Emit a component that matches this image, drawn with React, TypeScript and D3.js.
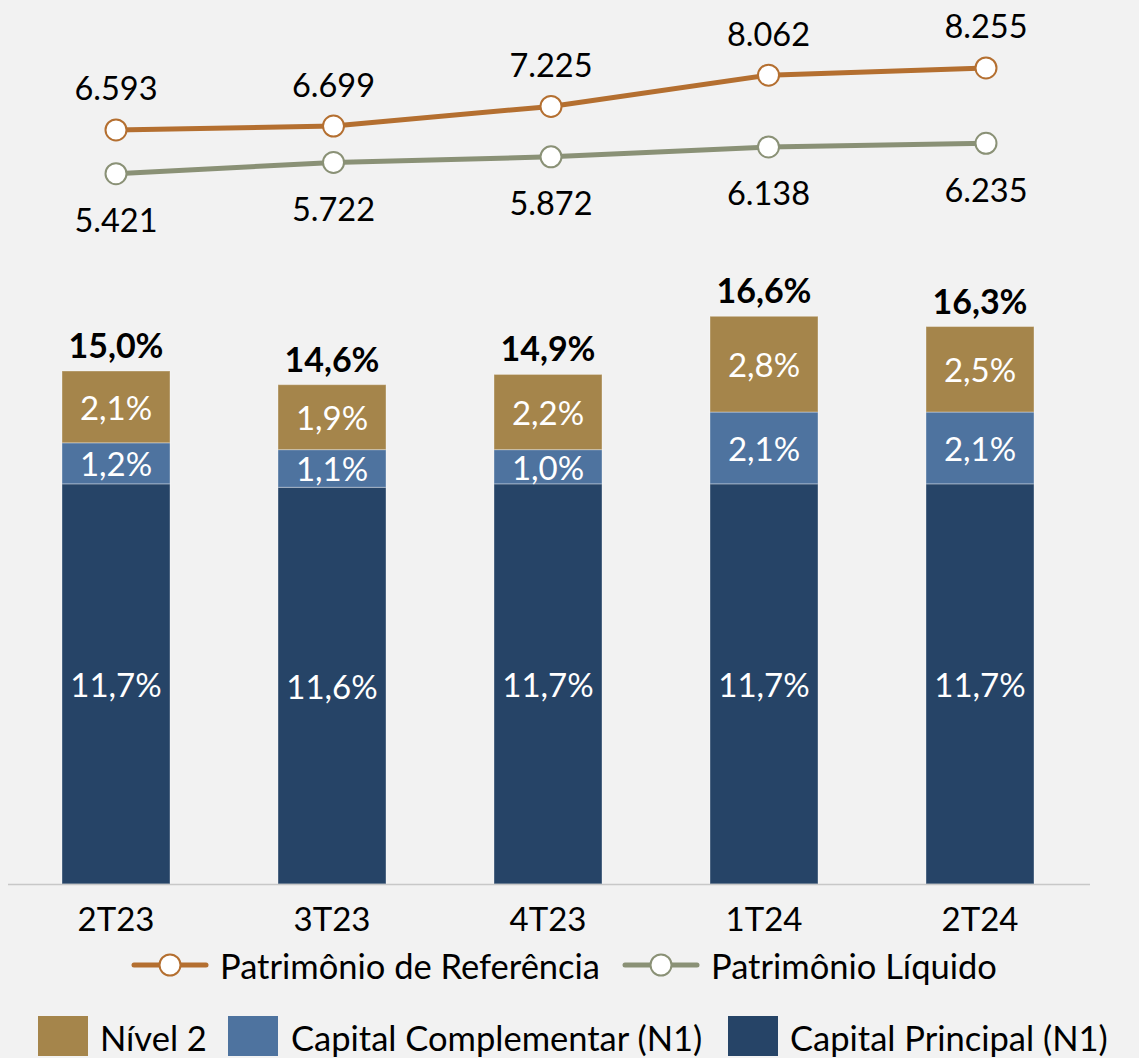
import React from "react";
import * as d3 from "d3";

const categories = ["2T23", "3T23", "4T23", "1T24", "2T24"];
const capitalPrincipal = [11.7, 11.6, 11.7, 11.7, 11.7];
const capitalComplementar = [1.2, 1.1, 1.0, 2.1, 2.1];
const nivel2 = [2.1, 1.9, 2.2, 2.8, 2.5];
const totals = [15.0, 14.6, 14.9, 16.6, 16.3];
const patrimonioReferencia = [6593, 6699, 7225, 8062, 8255];
const patrimonioLiquido = [5421, 5722, 5872, 6138, 6235];

const W = 1139;
const H = 1058;
const FONT = "Lato, 'Open Sans', sans-serif";
const C_PRINC = "#264467";
const C_COMP = "#4e739f";
const C_N2 = "#a5854b";
const C_PR = "#b46f30";
const C_PL = "#8a9176";

const fmtPct = (v: number) => v.toFixed(1).replace(".", ",") + "%";
const fmtNum = (v: number) => d3.format(",")(v).replace(/,/g, ".");

export default function App() {
  const x = d3.scaleBand<string>().domain(categories).range([8, 1088]).paddingInner(0.5).paddingOuter(0.25);
  const xLine = d3.scalePoint<string>().domain(categories).range([116, 986]);
  const yBar = d3.scaleLinear().domain([0, 20]).range([884, 884 - 20 * 34.2]);
  const yLine = d3.scaleLinear().domain([5000, 9000]).range([189.4, 40.2]);

  const series = [
    { name: "Capital Principal (N1)", values: capitalPrincipal, color: C_PRINC },
    { name: "Capital Complementar (N1)", values: capitalComplementar, color: C_COMP },
    { name: "Nível 2", values: nivel2, color: C_N2 },
  ];

  const stackData = categories.map((c, i) => ({
    cat: c,
    "Capital Principal (N1)": capitalPrincipal[i],
    "Capital Complementar (N1)": capitalComplementar[i],
    "Nível 2": nivel2[i],
  }));
  const stack = d3.stack<any>().keys(series.map((s) => s.name))(stackData);

  const lx = (i: number) => xLine(categories[i]) as number;
  const line = d3
    .line<number>()
    .x((_, i) => lx(i))
    .y((d) => yLine(d));

  const cx = (i: number) => (x(categories[i]) as number) + x.bandwidth() / 2;

  return (
    <svg
      width={W}
      height={H}
      style={{ position: "absolute", left: 0, top: 0, background: "#f2f2f2", fontFamily: FONT }}
    >
      <rect x={0} y={0} width={W} height={H} fill="#f2f2f2" />
      {stack.map((layer, li) => (
        <g key={layer.key}>
          {layer.map((d, i) => {
            const y0 = yBar(d[0]);
            const y1 = yBar(d[1]);
            return (
              <g key={i}>
                <rect
                  x={x(categories[i])}
                  y={y1}
                  width={x.bandwidth()}
                  height={y0 - y1}
                  fill={series[li].color}
                  stroke="rgba(255,255,255,0.35)"
                  strokeWidth={1}
                />
                <text
                  x={cx(i)}
                  y={(y0 + y1) / 2}
                  textAnchor="middle"
                  dominantBaseline="central"
                  fill="#ffffff"
                  fontSize={33}
                >
                  {fmtPct(series[li].values[i])}
                </text>
              </g>
            );
          })}
        </g>
      ))}
      {totals.map((t, i) => (
        <text
          key={i}
          x={cx(i)}
          y={yBar(t) - 13}
          textAnchor="middle"
          fontWeight="bold"
          fontSize={34}
          fill="#000"
        >
          {fmtPct(t)}
        </text>
      ))}
      <line x1={8} x2={1090} y1={884.5} y2={884.5} stroke="#c8c8c8" strokeWidth={1.5} />
      {categories.map((c, i) => (
        <text key={c} x={cx(i)} y={918} textAnchor="middle" dominantBaseline="central" fontSize={33} fill="#000">
          {c}
        </text>
      ))}

      <path d={line(patrimonioReferencia) || ""} fill="none" stroke={C_PR} strokeWidth={5} strokeLinejoin="round" />
      <path d={line(patrimonioLiquido) || ""} fill="none" stroke={C_PL} strokeWidth={5} strokeLinejoin="round" />
      {patrimonioReferencia.map((v, i) => (
        <g key={"pr" + i}>
          <circle cx={lx(i)} cy={yLine(v)} r={10.5} fill="#fff" stroke={C_PR} strokeWidth={2} />
          <text x={lx(i)} y={yLine(v) - 42} textAnchor="middle" dominantBaseline="central" fontSize={32.5} fill="#000">
            {fmtNum(v)}
          </text>
        </g>
      ))}
      {patrimonioLiquido.map((v, i) => (
        <g key={"pl" + i}>
          <circle cx={lx(i)} cy={yLine(v)} r={10.5} fill="#fff" stroke={C_PL} strokeWidth={2} />
          <text x={lx(i)} y={yLine(v) + 46} textAnchor="middle" dominantBaseline="central" fontSize={32.5} fill="#000">
            {fmtNum(v)}
          </text>
        </g>
      ))}

      {/* legend row 1 */}
      <g>
        <line x1={134} x2={206} y1={965} y2={965} stroke={C_PR} strokeWidth={5} strokeLinecap="round" />
        <circle cx={170} cy={965} r={10.5} fill="#fff" stroke={C_PR} strokeWidth={2} />
        <text x={220} y={965} dominantBaseline="central" fontSize={34.5} fill="#000">
          Patrimônio de Referência
        </text>
        <line x1={625} x2={697} y1={965} y2={965} stroke={C_PL} strokeWidth={5} strokeLinecap="round" />
        <circle cx={661} cy={965} r={10.5} fill="#fff" stroke={C_PL} strokeWidth={2} />
        <text x={711} y={965} dominantBaseline="central" fontSize={34.5} fill="#000">
          Patrimônio Líquido
        </text>
      </g>
      {/* legend row 2 */}
      <g>
        {[
          { name: "Nível 2", color: C_N2, x: 38, tx: 100 },
          { name: "Capital Complementar (N1)", color: C_COMP, x: 228, tx: 291 },
          { name: "Capital Principal (N1)", color: C_PRINC, x: 728, tx: 790 },
        ].map((l) => (
          <g key={l.name}>
            <rect x={l.x} y={1016} width={50} height={40} fill={l.color} />
            <text x={l.tx} y={1037} dominantBaseline="central" fontSize={34.5} fill="#000">
              {l.name}
            </text>
          </g>
        ))}
      </g>
    </svg>
  );
}
